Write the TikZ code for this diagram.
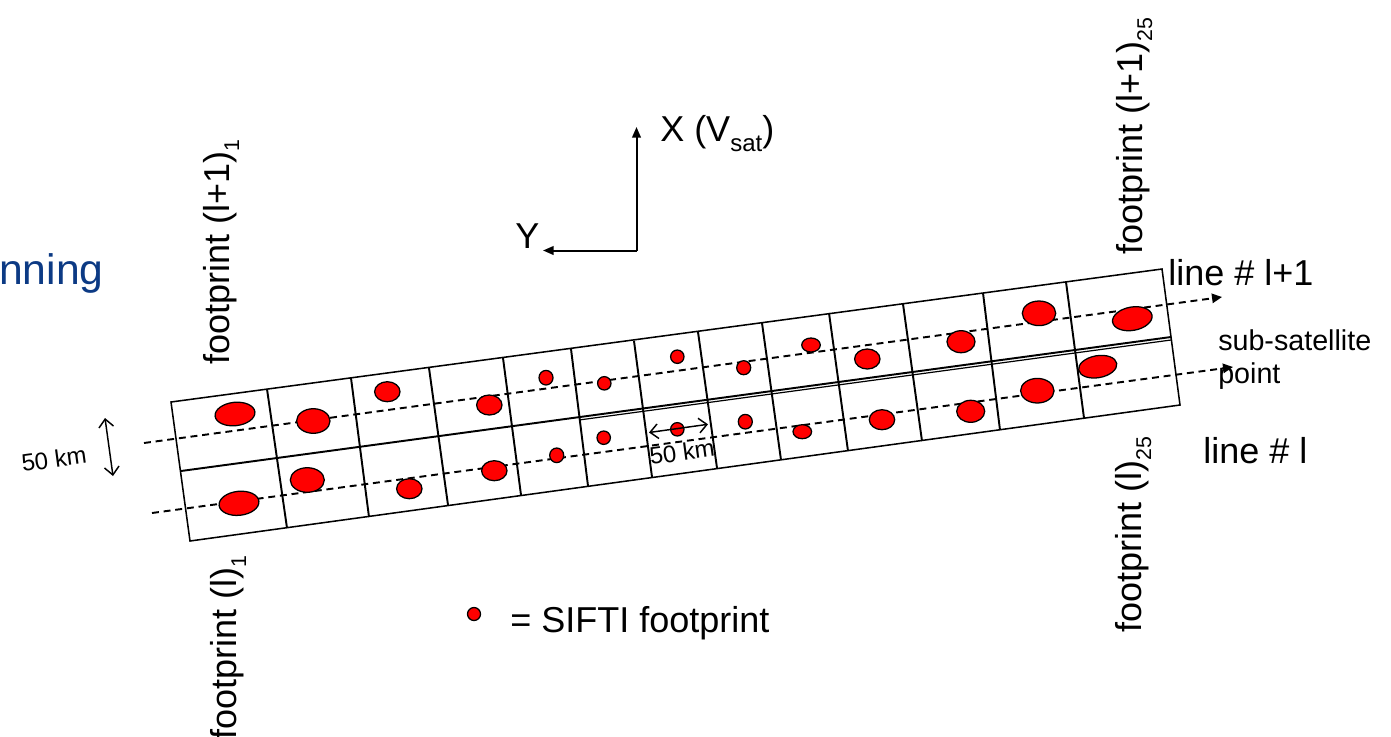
\documentclass[tikz,border=0pt]{standalone}
\usepackage{fontspec}
\setmainfont{Liberation Sans}
\usetikzlibrary{arrows.meta}
\definecolor{fpred}{RGB}{255,0,0}
\definecolor{titleblue}{RGB}{12,58,132}
\newcommand{\sbs}[2][16]{\raisebox{-7.5pt}{\fontsize{#1}{#1}\selectfont #2}}
\begin{document}
\begin{tikzpicture}[x=0.75pt,y=-0.75pt,
  grid/.style={line width=1.45pt},
  edge/.style={line width=1.15pt},
  fp/.style={fill=fpred,draw=black,line width=0.95pt},
  scanline/.style={line width=1.45pt,dash pattern=on 5.2pt off 3.6pt,-{Triangle[length=7.5pt,width=7pt]}},
  axis/.style={line width=1.5pt,-{Triangle[length=8pt,width=6.5pt]}},
  dim/.style={line width=1.1pt,{Straight Barb[length=6pt,width=11pt]}-{Straight Barb[length=6pt,width=11pt]}},
  big/.style={font=\fontsize{27}{30}\selectfont, inner sep=0pt},
  mid/.style={font=\fontsize{21.5}{25}\selectfont, inner sep=0pt},
  small/.style={font=\fontsize{18}{21}\selectfont, inner sep=0pt},
]
\useasboundingbox (0,0) rectangle (1391,736);

% title fragment
\node[big, text=titleblue, font=\fontsize{32}{36}\selectfont, anchor=base west] (title) at (-1,284) {nning};

% scan lines
\coordinate (s1a) at (144,443); \coordinate (s1b) at (1222,297);
\coordinate (s2a) at (152,513); \coordinate (s2b) at (1233,367);
\draw[scanline] (s1a) -- (s1b);
\draw[scanline] (s2a) -- (s2b);

% strip
\coordinate (TL) at (171,402); \coordinate (TR) at (1162,269);
\coordinate (BR) at (1180,405); \coordinate (BL) at (190,541);
\coordinate (ML) at (181,471); \coordinate (MR) at (1171,337);
\draw[edge] (TL) -- (TR) -- (BR) -- (BL) -- cycle;
\draw[grid] (ML) -- (MR);
\coordinate (M5) at (579,420); \coordinate (MR2) at (1171,340);
\draw[line width=0.9pt] (M5) -- (MR2);
\foreach \xa/\ya/\xb/\yb in {267/389/287/528, 351/378/369/517, 429/368/448/505, 503/358/521/495,
  571/349/588/486, 634/341/652/477, 698/332/717/468, 762/323/781/460, 829/313/848/451,
  903/304/922/441, 983/293/1000/430, 1066/282/1084/418}
  \draw[grid] (\xa,\ya) -- (\xb,\yb);

% footprints
\foreach \x/\y/\a/\b/\r in {235/414/20/11.7/6, 313.3/421/16.7/12.3/0, 387.3/391.7/12.7/10/0,
  489.3/405/12.7/10/0, 546/377.7/7/7.3/0, 604.3/383.3/6.7/6.7/0, 677.3/356.7/6.7/6.7/0,
  743.7/367.7/7/7/0, 811/345/9.3/7/0, 867.3/359/12.7/10/0, 961/341.7/14/11/0,
  1039/313.3/16.7/12.3/0, 1132.3/318.7/20/11.7/10,
  239/503.3/20/12/6, 307.3/480/17/12.3/0, 409.3/488.7/12.7/10/0, 494.3/470.7/12.7/10/0,
  556.7/455.3/7/7.3/0, 603.7/437.7/6.7/6.7/0, 677.3/429.3/6.7/6.7/0, 745.3/421.7/7/7.3/0,
  802.3/431.7/9.3/7/0, 882/419.7/12.7/10/0, 970.7/411.3/14/11/0, 1037.3/390.7/16.7/12.3/0,
  1097.7/366.7/19.3/11/10}
  \draw[fp, rotate around={\r:(\x,\y)}] (\x,\y) ellipse [x radius=\a, y radius=\b];

% dimension arrows
\coordinate (d1a) at (105,418); \coordinate (d1b) at (113,476);
\draw[dim] (d1a) -- (d1b);
\node[small, rotate=7.7] (km1) at (54,459) {50 km};
\coordinate (d2a) at (649,432.5); \coordinate (d2b) at (708,424.3);
\draw[dim] (d2a) -- (d2b);
\node[small, rotate=7.7] (km2) at (682,452) {50 km};

% axes
\coordinate (O) at (636.5,250.5); \coordinate (Xt) at (636.5,127); \coordinate (Yt) at (543,250.5);
\draw[axis] (O) -- (Xt);
\draw[axis] (O) -- (Yt);
\node[big, anchor=base west] (xlab) at (660,141) {X (V\sbs[18]{sat})};
\node[big, anchor=base west] (ylab) at (515,248) {Y};

% line labels
\node[big, anchor=base west] (l1) at (1168,285) {line \# l+1};
\node[big, anchor=base west] (l0) at (1203,463) {line \# l};
\node[mid, anchor=base west] (ss1) at (1218,350) {sub-satellite};
\node[mid, anchor=base west] (ss2) at (1218,383) {point};

% footprint labels
\node[big, rotate=90, anchor=base west] (f11) at (229,365) {footprint (l+1)\sbs{1}};
\node[big, rotate=90, anchor=base west] (f01) at (236,740) {footprint (l)\sbs{1}};
\node[big, rotate=90, anchor=base west] (f125) at (1142,255) {footprint (l+1)\sbs{25}};
\node[big, rotate=90, anchor=base west] (f025) at (1141,633) {footprint (l)\sbs{25}};

% legend
\draw[fp] (474,614) circle [radius=6.5];
\node[big, anchor=base west] (leg) at (510,632) {= SIFTI footprint};
\end{tikzpicture}
\end{document}
